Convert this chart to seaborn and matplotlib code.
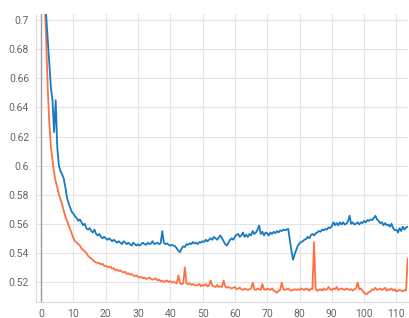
import numpy as np
import pandas as pd
import matplotlib
matplotlib.use("Agg")
import matplotlib.pyplot as plt
from matplotlib.ticker import FuncFormatter, MultipleLocator
import seaborn as sns

# logged every half step
steps = np.arange(0, 114, 0.5)

blue_run = [
    0.800, 0.760, 0.730, 0.705, 0.688, 0.670, 0.654, 0.645, 0.623, 0.645,
    0.612, 0.600, 0.596, 0.594, 0.591, 0.585, 0.578, 0.574, 0.571, 0.568,
    0.567, 0.565, 0.564, 0.562, 0.563, 0.561, 0.559, 0.560, 0.557, 0.556,
    0.557, 0.555, 0.554, 0.556, 0.553, 0.552, 0.553, 0.551, 0.550, 0.551,
    0.550, 0.549, 0.550, 0.549, 0.548, 0.549, 0.548, 0.547, 0.548, 0.547,
    0.546, 0.548, 0.547, 0.546, 0.547, 0.546, 0.545, 0.547, 0.546, 0.545,
    0.546, 0.545, 0.546, 0.547, 0.546, 0.5455, 0.547, 0.546, 0.5465, 0.548,
    0.546, 0.5465, 0.547, 0.546, 0.5465, 0.555, 0.547, 0.546, 0.5465, 0.5455,
    0.545, 0.5455, 0.545, 0.5445, 0.543, 0.5415, 0.5405, 0.543, 0.5445, 0.544,
    0.546, 0.5455, 0.5467, 0.546, 0.5475, 0.5465, 0.547, 0.546, 0.5475, 0.547,
    0.548, 0.5475, 0.549, 0.548, 0.549, 0.550, 0.549, 0.551, 0.550, 0.549,
    0.5505, 0.552, 0.550, 0.548, 0.546, 0.545, 0.547, 0.549, 0.550, 0.549,
    0.551, 0.5525, 0.553, 0.551, 0.552, 0.554, 0.551, 0.5525, 0.551, 0.553,
    0.552, 0.555, 0.553, 0.554, 0.556, 0.5588, 0.553, 0.5545, 0.552, 0.554,
    0.5535, 0.552, 0.554, 0.553, 0.5545, 0.5535, 0.555, 0.554, 0.5555, 0.555,
    0.556, 0.5555, 0.556, 0.5565, 0.549, 0.5415, 0.5353, 0.539, 0.542, 0.545,
    0.5465, 0.5475, 0.548, 0.549, 0.5495, 0.551, 0.550, 0.552, 0.553, 0.552,
    0.5535, 0.554, 0.555, 0.5545, 0.556, 0.5555, 0.5565, 0.556, 0.5575, 0.557,
    0.5585, 0.561, 0.559, 0.5605, 0.559, 0.561, 0.5595, 0.561, 0.5595, 0.560,
    0.5615, 0.5655, 0.560, 0.561, 0.5595, 0.560, 0.561, 0.5595, 0.561, 0.5605,
    0.562, 0.561, 0.5625, 0.562, 0.563, 0.5625, 0.564, 0.5655, 0.563, 0.562,
    0.5605, 0.561, 0.559, 0.5605, 0.559, 0.5595, 0.558, 0.560, 0.557, 0.5555,
    0.556, 0.554, 0.557, 0.555, 0.558, 0.556, 0.5575, 0.558,
]

orange_run = [
    0.780, 0.750, 0.720, 0.690, 0.655, 0.630, 0.613, 0.604, 0.595, 0.589,
    0.585, 0.580, 0.577, 0.573, 0.569, 0.565, 0.562, 0.559, 0.556, 0.553,
    0.550, 0.548, 0.547, 0.546, 0.545, 0.543, 0.542, 0.541, 0.540, 0.538,
    0.537, 0.536, 0.535, 0.534, 0.5335, 0.533, 0.533, 0.532, 0.5325, 0.531,
    0.531, 0.5305, 0.530, 0.5305, 0.529, 0.5295, 0.528, 0.5285, 0.5275, 0.528,
    0.527, 0.5265, 0.527, 0.5255, 0.526, 0.525, 0.5255, 0.5245, 0.524, 0.5245,
    0.5235, 0.523, 0.5235, 0.5225, 0.523, 0.522, 0.5225, 0.523, 0.522, 0.5215,
    0.522, 0.5225, 0.521, 0.5215, 0.5205, 0.521, 0.520, 0.5205, 0.521, 0.520,
    0.5205, 0.5195, 0.520, 0.5195, 0.519, 0.5245, 0.519, 0.5185, 0.519, 0.530,
    0.519, 0.5185, 0.519, 0.518, 0.5185, 0.518, 0.5175, 0.518, 0.5185, 0.517,
    0.518, 0.5175, 0.5185, 0.517, 0.5175, 0.521, 0.5175, 0.517, 0.5165, 0.518,
    0.5165, 0.517, 0.5165, 0.521, 0.517, 0.516, 0.5165, 0.516, 0.5155, 0.516,
    0.5165, 0.515, 0.5155, 0.516, 0.515, 0.5145, 0.5155, 0.515, 0.5145, 0.515,
    0.5155, 0.5195, 0.515, 0.5145, 0.5155, 0.515, 0.5145, 0.5185, 0.515, 0.5145,
    0.5155, 0.515, 0.5145, 0.5155, 0.514, 0.5135, 0.5125, 0.514, 0.5145, 0.5195,
    0.515, 0.5145, 0.515, 0.5155, 0.5145, 0.514, 0.5145, 0.515, 0.5145, 0.515,
    0.5145, 0.5155, 0.515, 0.5145, 0.5155, 0.515, 0.514, 0.5155, 0.515, 0.5473,
    0.515, 0.514, 0.5145, 0.515, 0.514, 0.5155, 0.5145, 0.515, 0.5165, 0.515,
    0.5145, 0.5155, 0.515, 0.5165, 0.5145, 0.515, 0.5155, 0.515, 0.5145, 0.5155,
    0.515, 0.5145, 0.515, 0.514, 0.515, 0.5155, 0.5195, 0.515, 0.5155, 0.514,
    0.5125, 0.5115, 0.512, 0.513, 0.5135, 0.515, 0.5145, 0.516, 0.5145, 0.515,
    0.5155, 0.5145, 0.515, 0.516, 0.514, 0.515, 0.5145, 0.5155, 0.514, 0.515,
    0.5135, 0.514, 0.5145, 0.514, 0.5135, 0.5145, 0.514, 0.536,
]

x_ticks = list(range(0, 111, 10))
y_ticks = [0.52, 0.54, 0.56, 0.58, 0.6, 0.62, 0.64, 0.66, 0.68, 0.7]

df = pd.DataFrame({
    "step": np.concatenate([steps, steps]),
    "value": blue_run + orange_run,
    "run": ["blue"] * len(steps) + ["orange"] * len(steps),
})

sns.set_style("white")
plt.rcParams["font.family"] = ["Roboto", "DejaVu Sans"]

fig = plt.figure(figsize=(4.09, 3.18), dpi=100)
ax = fig.add_axes([36 / 409, 16 / 318, 372 / 409, 288 / 318])

ax.grid(True, color="#e4e4e4", linewidth=0.8)
ax.set_axisbelow(True)
ax.axvline(0, color="#9e9e9e", linewidth=1.0, zorder=1)

sns.lineplot(data=df, x="step", y="value", hue="run",
             hue_order=["orange", "blue"],
             palette={"blue": "#1a7ac0", "orange": "#ff7043"},
             linewidth=1.3, legend=False, ax=ax, zorder=3)

ax.set_xlim(-1.6, 113.6)
ax.set_ylim(0.5062, 0.7043)
ax.xaxis.set_major_locator(MultipleLocator(10))
ax.set_yticks(y_ticks)
ax.set_xticks(x_ticks)
ax.yaxis.set_major_formatter(FuncFormatter(lambda v, p: f"{v:g}"))
ax.set_xlabel("")
ax.set_ylabel("")
ax.tick_params(length=0, labelsize=7.5, labelcolor="#666666", pad=5)

for side in ["top", "right"]:
    ax.spines[side].set_visible(False)
for side in ["left", "bottom"]:
    ax.spines[side].set_color("#dddddd")
    ax.spines[side].set_linewidth(0.8)

fig.savefig("out.png", dpi=100)
